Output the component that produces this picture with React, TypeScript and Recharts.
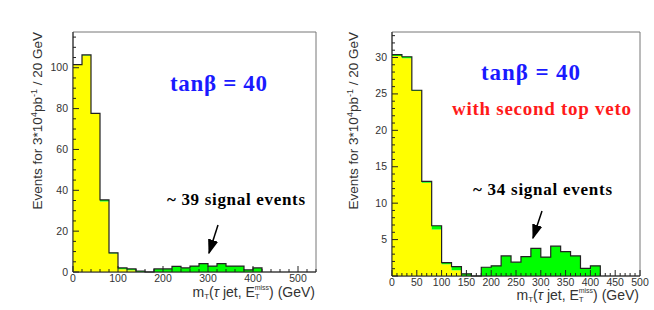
import { ComposedChart, Area, XAxis, YAxis, ReferenceArea } from "recharts";

// left edges of the 20 GeV bins (last edge closes the histogram)
const binEdges = [0, 20, 40, 60, 80, 100, 120, 140, 160, 180, 200, 220, 240, 260, 280, 300, 320, 340, 360, 380, 400, 420];

// tan beta = 40
const leftBackground = [101.5, 106, 77.5, 34.5, 9, 1.3, 0.8, 0, 0, 0, 0, 0, 0, 0, 0, 0, 0, 0, 0, 0, 0];
const leftSignal = [0, 0.3, 0.2, 0.8, 0.4, 0.7, 0.7, 0.5, 0, 1.5, 1.5, 2.8, 2, 2.9, 4.1, 2.9, 4.1, 2.9, 2.9, 1, 2];

// tan beta = 40 with second top veto
const rightBackground = [30.2, 29.9, 25.4, 12.8, 6.4, 1.6, 0.8, 0, 0, 0, 0, 0, 0, 0, 0, 0, 0, 0, 0, 0, 0];
const rightSignal = [0.2, 0.2, 0.1, 0.2, 0.5, 0.25, 0.5, 0.3, 0, 1.2, 1.4, 2.75, 1.9, 2.65, 3.8, 2.6, 4.1, 3.35, 2.75, 1.05, 1.4];

const leftXLabels = [0, 100, 200, 300, 400, 500];
const leftYLabels = [0, 20, 40, 60, 80, 100];
const rightXLabels = [0, 50, 100, 150, 200, 250, 300, 350, 400, 450, 500];
const rightYLabels = [5, 10, 15, 20, 25, 30];

const sans = "'Liberation Sans', Arial, Helvetica, sans-serif";
const serif = "'Liberation Serif', 'Times New Roman', serif";

const range = (max: number, step: number) =>
  Array.from({ length: Math.floor(max / step) + 1 }, (_, i) => i * step);

const buildRows = (bkg: number[], sig: number[]) =>
  binEdges.map((x, i) => ({ x, bkg: bkg[i] ?? 0, sig: sig[i] ?? 0 }));

const makeXTick = (labels: number[]) => (props: any) => {
  const { x, y, payload } = props;
  const major = labels.includes(payload.value);
  return (
    <g>
      <line x1={x} x2={x} y1={y} y2={y - (major ? 6 : 3)} stroke="#222" />
      {major && (
        <text x={x} y={y + 10} textAnchor="middle" fontSize={10.5} fill="#333" fontFamily={sans}>
          {payload.value}
        </text>
      )}
    </g>
  );
};

const makeYTick = (labels: number[], majorStep: number) => (props: any) => {
  const { x, y, payload } = props;
  const major = payload.value % majorStep === 0;
  return (
    <g>
      <line x1={x} x2={x + (major ? 6 : 3)} y1={y} y2={y} stroke="#222" />
      {labels.includes(payload.value) && (
        <text x={x - 5} y={y + 3.5} textAnchor="end" fontSize={10.5} fill="#333" fontFamily={sans}>
          {payload.value}
        </text>
      )}
    </g>
  );
};

const Panel = ({ width, margin, xMax, yMax, bkg, sig, xLabels, yLabels, xStep, yStep, yMajor }: any) => (
  <ComposedChart width={width} height={310} data={buildRows(bkg, sig)} margin={margin}>
    <ReferenceArea x1={0} x2={xMax} y1={0} y2={yMax} fill="none" stroke="#777" ifOverflow="visible" />
    <XAxis
      dataKey="x"
      type="number"
      domain={[0, xMax]}
      ticks={range(xMax, xStep)}
      interval={0}
      height={20}
      tickSize={0}
      tickMargin={0}
      tickLine={false}
      axisLine={{ stroke: "#222" }}
      tick={makeXTick(xLabels)}
    />
    <YAxis
      type="number"
      domain={[0, yMax]}
      ticks={range(yMax, yStep)}
      interval={0}
      width={30}
      tickSize={0}
      tickMargin={0}
      tickLine={false}
      axisLine={{ stroke: "#222" }}
      tick={makeYTick(yLabels, yMajor)}
    />
    <Area
      type="stepAfter"
      dataKey="bkg"
      stackId="h"
      fill="#ffff00"
      fillOpacity={1}
      stroke="none"
      dot={false}
      activeDot={false}
      isAnimationActive={false}
    />
    <Area
      type="stepAfter"
      dataKey="sig"
      stackId="h"
      fill="#00ff00"
      fillOpacity={1}
      stroke="#222"
      strokeWidth={1.2}
      dot={false}
      activeDot={false}
      isAnimationActive={false}
    />
  </ComposedChart>
);

const YTitle = ({ x }: { x: number }) => (
  <text transform={`translate(${x},32) rotate(-90)`} textAnchor="end" fontSize={13.5} fill="#333" fontFamily={sans}>
    Events for  3*10<tspan dy={-5} fontSize={9}>4</tspan>
    <tspan dy={5}>pb</tspan>
    <tspan dy={-5} fontSize={9}>-1</tspan>
    <tspan dy={5}> / 20 GeV</tspan>
  </text>
);

const XTitle = ({ x, y }: { x: number; y: number }) => (
  <text x={x} y={y} textAnchor="end" fontSize={14} fill="#333" fontFamily={sans}>
    m<tspan dy={2} fontSize={8}>T</tspan>
    <tspan dy={-2}>(</tspan>
    <tspan fontStyle="italic">τ</tspan> jet, E<tspan dy={2} fontSize={8}>T</tspan>
    <tspan dy={-9} dx={-5} fontSize={7}>miss</tspan>
    <tspan dy={7}>) (GeV)</tspan>
  </text>
);

export default function App() {
  return (
    <div style={{ position: "absolute", left: 0, top: 0, width: 654, height: 310, background: "#fff" }}>
      <div style={{ position: "absolute", left: 0, top: 0 }}>
        <Panel
          width={330}
          margin={{ top: 32, right: 14, bottom: 18, left: 43 }}
          xMax={540}
          yMax={117.5}
          bkg={leftBackground}
          sig={leftSignal}
          xLabels={leftXLabels}
          yLabels={leftYLabels}
          xStep={20}
          yStep={5}
          yMajor={20}
        />
      </div>
      <div style={{ position: "absolute", left: 330, top: 0 }}>
        <Panel
          width={324}
          margin={{ top: 32, right: 14, bottom: 14, left: 32 }}
          xMax={500}
          yMax={33.5}
          bkg={rightBackground}
          sig={rightSignal}
          xLabels={rightXLabels}
          yLabels={rightYLabels}
          xStep={10}
          yStep={1}
          yMajor={5}
        />
      </div>
      <svg width={654} height={310} style={{ position: "absolute", left: 0, top: 0, pointerEvents: "none" }}>
        <defs>
          <marker id="head" viewBox="0 0 10 10" refX="9" refY="5" markerWidth="10" markerHeight="10" orient="auto">
            <path d="M0,1.5 L10,5 L0,8.5 z" fill="#000" />
          </marker>
        </defs>
        <YTitle x={42} />
        <YTitle x={358} />
        <XTitle x={315} y={297} />
        <XTitle x={639} y={300} />

        <text x={170} y={91} fontSize={23} fontWeight="bold" fill="#1a1aff" fontFamily={serif} textLength={97}>
          tanβ = 40
        </text>
        <text x={167} y={205} fontSize={17} fontWeight="bold" fill="#000" fontFamily={serif} textLength={138}>
          ~ 39 signal events
        </text>
        <line x1={218} y1={225} x2={209} y2={253} stroke="#000" strokeWidth={1.5} markerEnd="url(#head)" />

        <text x={481} y={80} fontSize={23} fontWeight="bold" fill="#1a1aff" fontFamily={serif} textLength={99}>
          tanβ = 40
        </text>
        <text x={452} y={115} fontSize={19} fontWeight="bold" fill="#ff1a1a" fontFamily={serif} textLength={179}>
          with second top veto
        </text>
        <text x={473} y={195} fontSize={17} fontWeight="bold" fill="#000" fontFamily={serif} textLength={139}>
          ~ 34 signal events
        </text>
        <line x1={542} y1={211} x2={533} y2={238} stroke="#000" strokeWidth={1.5} markerEnd="url(#head)" />
      </svg>
    </div>
  );
}
